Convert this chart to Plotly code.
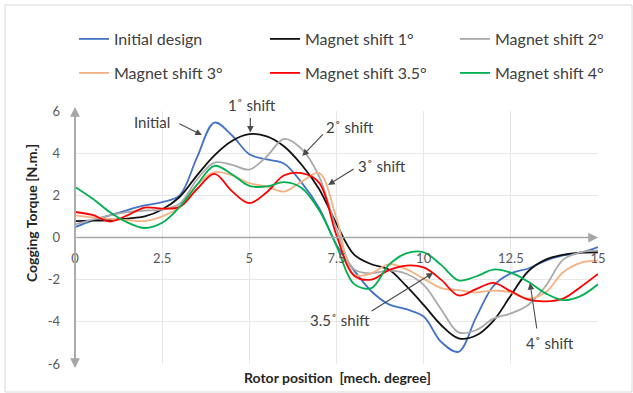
import plotly.graph_objects as go

# ---------------- data ----------------
rotor_position = [0, 0.5, 1, 1.5, 2, 2.5, 3, 3.5, 4, 4.5, 5, 5.5, 6, 6.5, 7, 7.5,
                  8, 8.5, 9, 9.5, 10, 10.5, 11, 11.5, 12, 12.5, 13, 13.5, 14, 14.5, 15]

initial_design = [0.49, 0.8, 1.05, 1.3, 1.52, 1.68, 2.0, 3.8, 5.45, 4.85, 3.95, 3.7, 3.5, 2.6,
                  1.4, -0.35, -1.55, -2.55, -3.17, -3.4, -3.75, -4.95, -5.42, -3.8, -2.3,
                  -1.7, -1.47, -1.1, -0.85, -0.72, -0.45]
shift_1 = [0.78, 0.8, 0.83, 0.9, 1.0, 1.33, 1.92, 2.95, 3.9, 4.58, 4.9, 4.8, 4.32, 3.45, 2.3,
           0.65, -0.8, -1.27, -1.52, -2.3, -3.2, -4.15, -4.78, -4.65, -3.95, -2.75, -1.6,
           -1.05, -0.82, -0.72, -0.7]
shift_2 = [0.62, 0.85, 1.05, 1.2, 1.28, 1.32, 1.6, 2.75, 3.55, 3.45, 3.22, 3.85, 4.68, 4.2,
           2.9, 0.4, -1.5, -1.7, -1.57, -1.72, -2.25, -3.4, -4.5, -4.4, -3.85, -3.6, -3.2,
           -2.3, -1.05, -0.7, -0.62]
shift_3 = [1.05, 0.95, 0.88, 0.82, 0.78, 1.0, 1.44, 2.5, 3.1, 2.95, 2.58, 2.42, 2.18, 2.65,
           3.05, 0.9, -1.75, -1.7, -1.26, -1.5, -1.95, -2.4, -2.5, -2.6, -2.52, -2.6, -2.9,
           -2.6, -1.65, -1.2, -1.1]
shift_3_5 = [1.21, 1.07, 0.76, 1.05, 1.42, 1.37, 1.45, 2.3, 3.02, 2.2, 1.63, 2.15, 2.95, 3.05,
             2.6, 0.1, -1.8, -2.0, -1.55, -1.33, -1.42, -2.0, -2.75, -2.45, -2.15, -2.55,
             -2.95, -3.03, -2.9, -2.35, -1.73]
shift_4 = [2.4, 1.85, 1.2, 0.72, 0.45, 0.7, 1.45, 2.5, 3.4, 3.0, 2.45, 2.42, 2.63, 2.35, 1.3,
           -0.4, -2.2, -2.4, -1.3, -0.75, -0.7, -1.3, -2.03, -1.85, -1.52, -1.67, -2.1, -2.65,
           -2.97, -2.78, -2.22]

series_names = ["Initial design", "Magnet shift 1°", "Magnet shift 2°",
                "Magnet shift 3°", "Magnet shift 3.5°", "Magnet shift 4°"]
series_values = [initial_design, shift_1, shift_2, shift_3, shift_3_5, shift_4]
series_colors = ["#4472C4", "#111111", "#A9A9A9", "#F4B183", "#FF0000", "#00B050"]

x_ticks = [0, 2.5, 5, 7.5, 10, 12.5, 15]
x_tick_labels = ["0", "2.5", "5", "7.5", "10", "12.5", "15"]
y_ticks = [-6, -4, -2, 0, 2, 4, 6]
y_tick_labels = ["-6", "-4", "-2", "0", "2", "4", "6"]

# callouts: label, label position (x, y), arrow head (x, y), arrow tail offset (px)
callout_text = ["Initial", "1˚ shift", "2˚ shift", "3˚ shift", "3.5˚ shift", "4˚ shift"]
callout_text_pos = [(2.21, 5.46), (5.07, 6.28), (7.89, 5.26), (8.8, 3.39), (7.6, -3.91), (13.62, -5.02)]
callout_head = [(3.64, 4.86), (5.03, 4.98), (6.52, 3.87), (7.26, 2.49), (10.27, -1.68), (13.05, -2.16)]
callout_tail = [(-24, -12), (0, -16), (22, -23), (27, -17), (-63, 39), (7, 47)]

FONT = "Lato"
W, H = 633, 393
ML, MR, MT, MB = 75, 35, 111, 29
PW, PH = W - ML - MR, H - MT - MB
X_MIN, X_MAX, Y_MIN, Y_MAX = 0, 15, -6, 6

# legend entry layout: (left pixel of entry, centre pixel row)
legend_cols_px = [74, 265, 455]
legend_rows_px = [39, 73]


def dx(v):  # data x -> paper x
    return (v - X_MIN) / (X_MAX - X_MIN)


def dy(v):  # data y -> paper y
    return (v - Y_MIN) / (Y_MAX - Y_MIN)


def px_to_paper_x(px):
    return (px - ML) / PW


def px_to_paper_y(py):
    return (H - MB - py) / PH


fig = go.Figure()
legend_layouts = {}
for i, (name, vals, col) in enumerate(zip(series_names, series_values, series_colors)):
    key = "legend" if i == 0 else f"legend{i + 1}"
    fig.add_trace(go.Scatter(
        x=rotor_position, y=vals, mode="lines", name=name, legend=key,
        line=dict(color=col, width=1.8, shape="spline", smoothing=1.0),
        hoverinfo="skip"))
    legend_layouts[key] = dict(
        orientation="h", xanchor="left", yanchor="middle",
        x=px_to_paper_x(legend_cols_px[i % 3]), y=px_to_paper_y(legend_rows_px[i // 3]),
        itemwidth=30, bgcolor="rgba(0,0,0,0)", borderwidth=0,
        font=dict(family=FONT, size=16, color="#404040"))

annotations = []
axis_arrow = dict(xref="paper", yref="paper", axref="pixel", ayref="pixel", text="",
                  showarrow=True, arrowhead=2, arrowsize=1.3, arrowwidth=1.5,
                  arrowcolor="#A6A6A6", standoff=0)
# x axis arrow (pointing right along y = 0)
annotations.append(dict(axis_arrow, x=dx(15), y=dy(0), ax=-PW, ay=0))
# y axis arrows (both ends)
annotations.append(dict(axis_arrow, x=dx(0), y=px_to_paper_y(107), ax=0, ay=PH + 8))
annotations.append(dict(axis_arrow, x=dx(0), y=px_to_paper_y(368), ax=0, ay=-(PH + 8)))

for txt, (tx, ty), (hx, hy), (ox, oy) in zip(callout_text, callout_text_pos, callout_head, callout_tail):
    annotations.append(dict(x=dx(tx), y=dy(ty), xref="paper", yref="paper", text=txt,
                            showarrow=False, xanchor="center", yanchor="middle",
                            font=dict(family=FONT, size=15, color="#404040")))
    annotations.append(dict(x=dx(hx), y=dy(hy), xref="paper", yref="paper", ax=ox, ay=oy,
                            text="", showarrow=True, arrowhead=2, arrowsize=1.2,
                            arrowwidth=1.1, arrowcolor="#4a4a4a", standoff=0))

# axis titles
annotations.append(dict(x=px_to_paper_x(337), y=px_to_paper_y(377), xref="paper", yref="paper",
                        text="<b>Rotor position  [mech. degree]</b>", showarrow=False,
                        xanchor="center", yanchor="middle",
                        font=dict(family=FONT, size=14, color="#262626")))
annotations.append(dict(x=px_to_paper_x(31), y=px_to_paper_y(213), xref="paper", yref="paper",
                        text="<b>Cogging Torque [N.m.]</b>", showarrow=False, textangle=-90,
                        xanchor="center", yanchor="middle",
                        font=dict(family=FONT, size=14, color="#262626")))

fig.update_layout(
    width=W, height=H,
    margin=dict(l=ML, r=MR, t=MT, b=MB, pad=0, autoexpand=False),
    paper_bgcolor="white", plot_bgcolor="white",
    showlegend=True,
    xaxis=dict(range=[X_MIN, X_MAX], tickvals=x_ticks, ticktext=x_tick_labels,
               showgrid=True, gridcolor="#E7E7E7", gridwidth=1, zeroline=False,
               showline=False, ticks="", anchor="free", position=0.5,
               ticklabelstandoff=11, fixedrange=True, automargin=False,
               tickfont=dict(family=FONT, size=13, color="#595959")),
    yaxis=dict(range=[Y_MIN, Y_MAX], tickvals=y_ticks, ticktext=y_tick_labels,
               showgrid=True, gridcolor="#E7E7E7", gridwidth=1, zeroline=False,
               showline=False, ticks="", ticklabelstandoff=14, fixedrange=True,
               automargin=False,
               tickfont=dict(family=FONT, size=13, color="#595959")),
    annotations=annotations,
    shapes=[dict(type="rect", xref="paper", yref="paper",
                 x0=px_to_paper_x(5), x1=px_to_paper_x(632),
                 y0=px_to_paper_y(392), y1=px_to_paper_y(5),
                 line=dict(color="#D9D9D9", width=1), fillcolor="rgba(0,0,0,0)",
                 layer="below")],
    **legend_layouts,
)

fig.write_html("out.html", config={"displayModeBar": False},
               post_script="document.body.style.margin='0';document.body.style.padding='0';")
